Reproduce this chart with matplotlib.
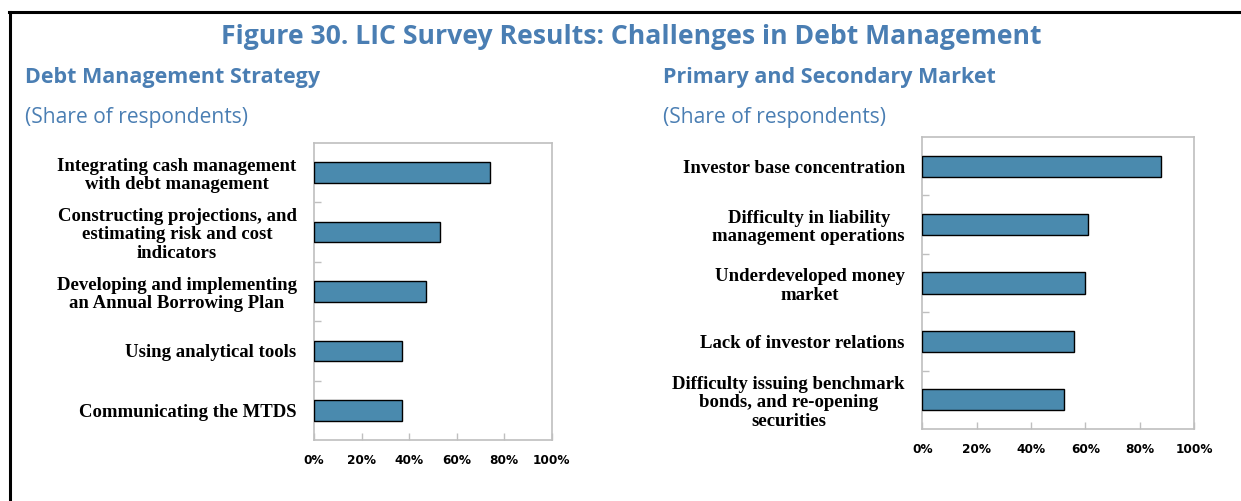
import matplotlib
matplotlib.use("Agg")
import matplotlib.pyplot as plt
from matplotlib.lines import Line2D

# Data (share of respondents)
dms_labels = [
    "Integrating cash management\nwith debt management",
    "Constructing projections, and\nestimating risk and cost\nindicators",
    "Developing and implementing\nan Annual Borrowing Plan",
    "Using analytical tools",
    "Communicating the MTDS",
]
dms_values = [0.74, 0.53, 0.47, 0.37, 0.37]

mkt_labels = [
    "Investor base concentration",
    "Difficulty in liability\nmanagement operations",
    "Underdeveloped money\nmarket",
    "Lack of investor relations",
    "Difficulty issuing benchmark\nbonds, and re-opening\nsecurities",
]
mkt_values = [0.88, 0.61, 0.60, 0.56, 0.52]

x_ticks = [0, 0.2, 0.4, 0.6, 0.8, 1.0]
x_ticklabels = ["0%", "20%", "40%", "60%", "80%", "100%"]

BAR = "#4A8AAE"
TITLE = "#4A7EB3"
SPINE = "#BFBFBF"
W, H = 1241, 501

fig = plt.figure(figsize=(W / 100, H / 100), dpi=100)


def fx(px):
    return px / W


def fy(py):
    return 1 - py / H


# outer frame (left and top edges)
fig.add_artist(Line2D([fx(9.5), fx(9.5)], [fy(12), fy(510)], color="black", lw=2.2,
                      transform=fig.transFigure))
fig.add_artist(Line2D([fx(8.5), fx(1250)], [fy(12), fy(12)], color="black", lw=2.2,
                      transform=fig.transFigure))

fig.text(fx(631), fy(37), "Figure 30. LIC Survey Results: Challenges in Debt Management",
         ha="center", va="center", color=TITLE, fontsize=19.2, fontweight="bold",
         family="Open Sans")

fig.text(fx(25), fy(78), "Debt Management Strategy", ha="left", va="center",
         color=TITLE, fontsize=15.5, fontweight="bold", family="Open Sans")
fig.text(fx(25), fy(118), "(Share of respondents)", ha="left", va="center",
         color=TITLE, fontsize=15.1, family="Open Sans")
fig.text(fx(663), fy(78), "Primary and Secondary Market", ha="left", va="center",
         color=TITLE, fontsize=15.5, fontweight="bold", family="Open Sans")
fig.text(fx(663), fy(118), "(Share of respondents)", ha="left", va="center",
         color=TITLE, fontsize=15.1, family="Open Sans")


def panel(rect, labels, values, bar_h):
    ax = fig.add_axes(rect)
    n = len(values)
    pos = list(range(n))
    ax.barh(pos, values, height=bar_h, color=BAR, edgecolor="black", linewidth=1.0,
            zorder=3)
    ax.set_xlim(0, 1.0)
    ax.set_ylim(n - 0.5, -0.5)
    for s in ax.spines.values():
        s.set_color(SPINE)
        s.set_linewidth(1.2)
    ax.set_yticks(pos)
    ax.set_yticklabels(labels, family="Liberation Serif", fontweight="bold",
                       fontsize=13.5, multialignment="center", linespacing=1.12)
    ax.tick_params(axis="y", which="major", length=0, pad=12.5)
    ax.set_yticks([i + 0.5 for i in range(n - 1)], minor=True)
    ax.tick_params(axis="y", which="minor", direction="in", length=5, color=SPINE,
                   width=1)
    ax.set_xticks(x_ticks)
    ax.set_xticklabels(x_ticklabels, family="DejaVu Sans", fontweight="bold",
                       fontsize=8.7)
    ax.tick_params(axis="x", direction="in", length=5, color=SPINE, width=1, pad=10)
    return ax


panel([fx(314), fy(440), fx(551.7) - fx(314), fy(143) - fy(440)],
      dms_labels, dms_values, 0.35)
panel([fx(922.3), fy(429), fx(1194) - fx(922.3), fy(137) - fy(429)],
      mkt_labels, mkt_values, 0.36)

fig.savefig("out.png", dpi=100)
